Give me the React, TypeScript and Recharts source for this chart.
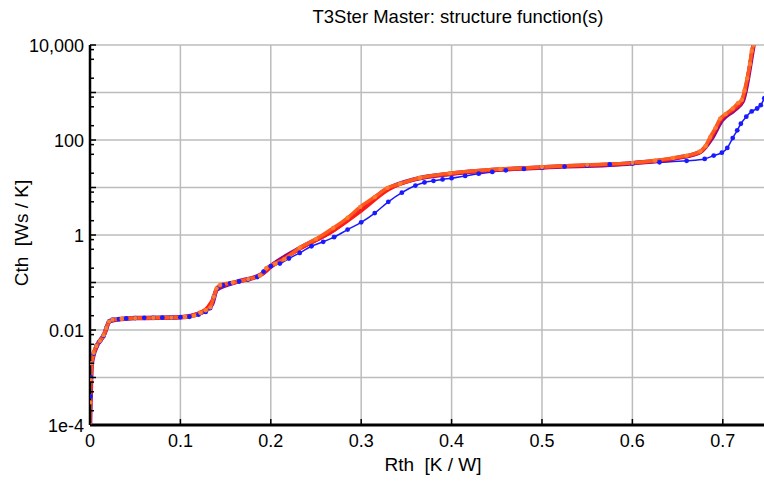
import { LineChart, Line, XAxis, YAxis, CartesianGrid } from 'recharts';

// Rth [K/W] vs Cth [Ws/K]
const rthTicks = [0, 0.1, 0.2, 0.3, 0.4, 0.5, 0.6, 0.7];
const cthDecades = [1e-4, 1e-3, 1e-2, 0.1, 1, 10, 100, 1000, 1e4];
const cthLabelled = [1e-4, 1e-2, 1, 100, 1e4];
const minorSteps = [2, 5, 8];

const blueCurve = [
  [0, 1e-4], [0.0005, 4e-4], [0.001, 1e-3], [0.002, 2e-3], [0.004, 3.2e-3], [0.007, 4.6e-3],
  [0.011, 5.8e-3], [0.015, 7.6e-3], [0.018, 0.011], [0.021, 0.015], [0.025, 0.0165], [0.032, 0.017],
  [0.04, 0.0175], [0.05, 0.0178], [0.06, 0.018], [0.07, 0.018], [0.08, 0.0182], [0.09, 0.0184],
  [0.1, 0.0186], [0.11, 0.019], [0.12, 0.021], [0.128, 0.024], [0.133, 0.029], [0.137, 0.05],
  [0.141, 0.075], [0.147, 0.088], [0.155, 0.096], [0.165, 0.105], [0.175, 0.115], [0.185, 0.13],
  [0.192, 0.17], [0.2, 0.22], [0.21, 0.25], [0.22, 0.32], [0.232, 0.42], [0.245, 0.58],
  [0.258, 0.72], [0.27, 0.9], [0.285, 1.3], [0.3, 1.85], [0.315, 2.9], [0.33, 5],
  [0.345, 7.8], [0.36, 11], [0.37, 12.8], [0.38, 13.8], [0.39, 14.8], [0.4, 15.7],
  [0.415, 17.5], [0.43, 19.5], [0.445, 21.3], [0.46, 23], [0.48, 24.6], [0.5, 26],
  [0.525, 27.6], [0.55, 29], [0.575, 30.5], [0.6, 32], [0.63, 34], [0.66, 36.5],
  [0.68, 40], [0.69, 47], [0.699, 54], [0.705, 68], [0.711, 110], [0.716, 160],
  [0.72, 220], [0.726, 310], [0.732, 400], [0.738, 460], [0.742, 540], [0.746, 760],
];

const purpleCurve = [
  [0, 1e-4], [0.002, 2e-3], [0.008, 4.8e-3], [0.015, 7.6e-3], [0.022, 0.0155], [0.05, 0.0178],
  [0.1, 0.0186], [0.125, 0.024], [0.135, 0.035], [0.14, 0.07], [0.16, 0.1], [0.19, 0.15],
  [0.2, 0.22], [0.23, 0.5], [0.27, 1.3], [0.3, 3.6], [0.33, 9.5], [0.36, 15],
  [0.4, 19.5], [0.5, 26.5], [0.6, 32.5], [0.65, 42], [0.675, 56], [0.688, 110],
  [0.699, 260], [0.713, 430], [0.722, 650], [0.727, 1600], [0.731, 4500], [0.734, 10000],
];

const redCurve = [
  [0, 1e-4], [0.002, 2e-3], [0.008, 4.8e-3], [0.016, 8e-3], [0.022, 0.0155], [0.05, 0.0178],
  [0.1, 0.0186], [0.125, 0.025], [0.136, 0.045], [0.142, 0.08], [0.16, 0.1], [0.19, 0.15],
  [0.2, 0.21], [0.23, 0.48], [0.27, 1.25], [0.3, 3.2], [0.33, 9], [0.36, 15],
  [0.4, 19.5], [0.5, 26.5], [0.6, 33], [0.65, 42], [0.676, 57], [0.687, 112],
  [0.698, 270], [0.712, 440], [0.721, 640], [0.727, 1800], [0.731, 5000], [0.734, 10000],
];

const orangeCurve = [
  [0, 1e-4], [0.0003, 3e-4], [0.0008, 9e-4], [0.002, 2e-3], [0.004, 3.3e-3], [0.007, 4.6e-3],
  [0.011, 5.9e-3], [0.015, 7.8e-3], [0.018, 0.011], [0.021, 0.015], [0.025, 0.0165], [0.035, 0.0172],
  [0.05, 0.0178], [0.07, 0.018], [0.09, 0.0183], [0.105, 0.0188], [0.115, 0.02], [0.122, 0.023],
  [0.128, 0.026], [0.133, 0.03], [0.137, 0.05], [0.14, 0.075], [0.144, 0.089], [0.158, 0.1],
  [0.175, 0.118], [0.188, 0.14], [0.195, 0.2], [0.205, 0.25], [0.215, 0.31], [0.232, 0.54],
  [0.25, 0.82], [0.269, 1.4], [0.285, 2.3], [0.299, 3.9], [0.315, 6.3], [0.329, 9.8],
  [0.343, 12], [0.365, 16], [0.398, 20], [0.454, 24.5], [0.5, 27], [0.55, 30],
  [0.6, 33], [0.625, 37], [0.645, 42], [0.66, 47], [0.675, 58], [0.681, 75],
  [0.686, 115], [0.692, 180], [0.697, 280], [0.703, 350], [0.711, 460], [0.717, 600],
  [0.721, 700], [0.724, 1100], [0.727, 2000], [0.73, 4000], [0.732, 7500], [0.734, 10000],
];

const toRows = (pts: number[][]) => pts.map(([rth, cth]) => ({ rth, cth }));

const cthMinor = cthDecades.slice(0, -1).flatMap(d => minorSteps.map(m => d * m));
const FONT = '"Liberation Sans", Arial, sans-serif';

const fmtCth = (v: number) => (v === 1e-4 ? '1e-4' : v.toLocaleString('en-US'));

const YTick = (p: any) => {
  const v = p.payload.value;
  const major = cthDecades.includes(v);
  return (
    <g>
      <line x1={p.x} x2={p.x + (major ? 6 : 4)} y1={p.y} y2={p.y} stroke="#000" strokeWidth={1.5} />
      {cthLabelled.includes(v) && (
        <text x={p.x - 6} y={p.y} dy={6.5} textAnchor="end" fontSize={18} fontFamily={FONT} fill="#000">
          {fmtCth(v)}
        </text>
      )}
    </g>
  );
};

const XTick = (p: any) => (
  <g>
    <line x1={p.x} x2={p.x} y1={p.y} y2={p.y - 6} stroke="#000" strokeWidth={1.5} />
    <text x={p.x} y={p.y} dy={22} textAnchor="middle" fontSize={18} fontFamily={FONT} fill="#000">
      {p.payload.value}
    </text>
  </g>
);

const TopTick = (p: any) => (
  <line x1={p.x} x2={p.x} y1={p.y} y2={p.y + 6} stroke="#000" strokeWidth={1.5} />
);

export default function App() {
  return (
    <div style={{ position: 'absolute', left: 0, top: 0, width: 764, height: 484, fontFamily: FONT, background: '#fff' }}>
      <div style={{ position: 'absolute', left: 458, top: 6, transform: 'translateX(-50%)', fontSize: 18.5, whiteSpace: 'nowrap' }}>
        T3Ster Master: structure function(s)
      </div>
      <div style={{ position: 'absolute', left: 433, top: 454, transform: 'translateX(-50%)', fontSize: 19, whiteSpace: 'pre' }}>
        {'Rth  [K / W]'}
      </div>
      <div style={{ position: 'absolute', left: 22, top: 233, transform: 'translate(-50%, -50%) rotate(-90deg)', fontSize: 19, whiteSpace: 'pre' }}>
        {'Cth  [Ws / K]'}
      </div>
      <LineChart width={764} height={484} margin={{ top: 45, right: 0, bottom: 29, left: 0 }}>
        <CartesianGrid stroke="#bcbcbc" strokeWidth={1.5} horizontalValues={cthDecades} verticalValues={rthTicks} />
        <XAxis
          dataKey="rth" type="number" domain={[0, 0.7456]} allowDataOverflow ticks={rthTicks}
          height={30} tickSize={0} tickMargin={0} tick={<XTick />} interval={0}
          axisLine={{ stroke: '#000', strokeWidth: 3 }}
        />
        <XAxis
          xAxisId="top" orientation="top" type="number" domain={[0, 0.7456]} allowDataOverflow ticks={rthTicks}
          height={0} tickSize={0} tickMargin={0} tick={<TopTick />} interval={0}
          axisLine={{ stroke: '#000', strokeWidth: 3 }}
        />
        <YAxis
          dataKey="cth" type="number" scale="log" domain={[1e-4, 1e4]} allowDataOverflow
          ticks={[...cthDecades, ...cthMinor]} width={90} tickSize={0} tickMargin={0} tick={<YTick />} interval={0}
          axisLine={{ stroke: '#000', strokeWidth: 2.5 }}
        />
        <Line type="monotone" data={toRows(blueCurve)} dataKey="cth" stroke="#1a1aff" strokeWidth={1.5}
          dot={{ r: 2.4, fill: '#1a1aff', stroke: 'none' }} isAnimationActive={false} />
        <Line type="monotone" data={toRows(purpleCurve)} dataKey="cth" stroke="#8b0a8b" strokeWidth={4.5}
          dot={false} isAnimationActive={false} />
        <Line type="monotone" data={toRows(redCurve)} dataKey="cth" stroke="#ff1a1a" strokeWidth={3.5}
          dot={false} isAnimationActive={false} />
        <Line type="monotone" data={toRows(orangeCurve)} dataKey="cth" stroke="#ff5a1e" strokeWidth={3.5}
          dot={{ r: 2.2, fill: '#ff7a2e', stroke: 'none' }} isAnimationActive={false} />
      </LineChart>
    </div>
  );
}
